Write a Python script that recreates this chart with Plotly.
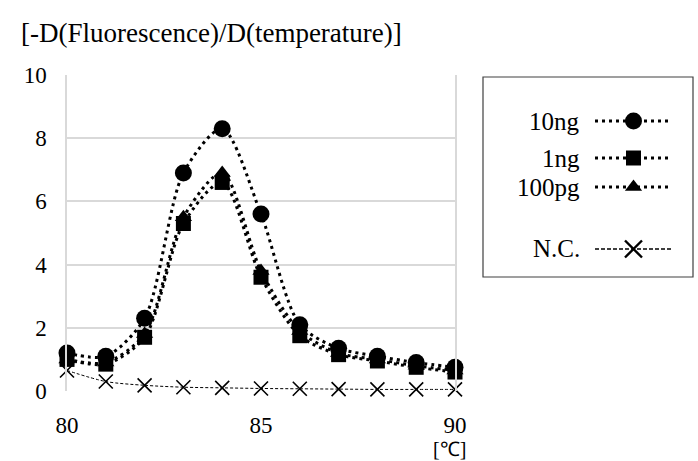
import plotly.graph_objects as go

temps = [80, 81, 82, 83, 84, 85, 86, 87, 88, 89, 90]
ng10 = [1.2, 1.1, 2.3, 6.9, 8.3, 5.6, 2.1, 1.35, 1.1, 0.9, 0.75]
ng1 = [1.0, 0.85, 1.7, 5.3, 6.6, 3.6, 1.75, 1.15, 0.95, 0.75, 0.6]
pg100 = [1.0, 0.9, 1.8, 5.5, 6.9, 3.8, 1.9, 1.2, 1.0, 0.8, 0.65]
nc = [0.65, 0.3, 0.18, 0.12, 0.1, 0.08, 0.07, 0.06, 0.05, 0.05, 0.05]

series_names = ["10ng", "1ng", "100pg", "N.C."]
xticks = [80, 85, 90]
yticks = [0, 2, 4, 6, 8, 10]

FONT = "Liberation Serif"
W, H = 698, 461


def px(x):
    return x / W


def py(y):
    return (H - y) / H


fig = go.Figure()


def add(y, sym, size, dash, width, name, lw=0):
    fig.add_trace(go.Scatter(
        x=temps, y=y, mode="lines+markers", name=name,
        line=dict(shape="spline", smoothing=0.8, dash=dash, width=width, color="black"),
        marker=dict(symbol=sym, size=size, color="black", line=dict(width=lw, color="black")),
        cliponaxis=False, showlegend=False))


DOT = "3px,4px"
NCDASH = "3px,2px"
add(ng10, "circle", 17, DOT, 3, "10ng")
add(pg100, "triangle-up", 15, DOT, 3, "100pg")
add(ng1, "square", 15, DOT, 3, "1ng")
add(nc, "x-thin", 14, NCDASH, 1, "N.C.", lw=1.6)

# custom legend (text left of symbol); legend axis y range is in pixel rows
leg_y = [121, 158, 187, 249]
styles = [("circle", 17, DOT, 3, 0), ("square", 15, DOT, 3, 0),
          ("triangle-up", 15, DOT, 3, 0), ("x-thin", 17, "4px,2px", 1.5, 2.4)]
annots = []
for name, ly, (sym, sz, dash, w, lw) in zip(series_names, leg_y, styles):
    fig.add_trace(go.Scatter(
        x=[0, 1, 2], y=[ly, ly, ly], mode="lines", xaxis="x2", yaxis="y2",
        line=dict(dash=dash, width=w, color="black"), showlegend=False, hoverinfo="skip"))
    fig.add_trace(go.Scatter(
        x=[1], y=[ly], mode="markers", xaxis="x2", yaxis="y2",
        marker=dict(symbol=sym, size=sz, color="black", line=dict(width=lw, color="black")),
        showlegend=False, cliponaxis=False, hoverinfo="skip"))
    annots.append(dict(x=px(582), y=py(ly), xref="paper", yref="paper", text=name,
                       showarrow=False, xanchor="right", yanchor="middle",
                       font=dict(family=FONT, size=25, color="black")))

annots.append(dict(text="[-D(Fluorescence)/D(temperature)]", xref="paper", yref="paper",
                   x=px(19), y=py(33), showarrow=False, xanchor="left", yanchor="middle",
                   font=dict(family=FONT, size=27, color="black")))
annots.append(dict(text="[℃]", xref="paper", yref="paper",
                   x=px(449), y=py(449), showarrow=False, xanchor="center", yanchor="middle",
                   font=dict(family=FONT, size=20, color="black")))

fig.update_layout(
    width=W, height=H,
    margin=dict(l=0, r=0, t=0, b=0, autoexpand=False),
    paper_bgcolor="white", plot_bgcolor="white",
    font=dict(family=FONT, size=23, color="black"),
    xaxis=dict(domain=[px(67), px(455)], range=[80, 90], tickvals=xticks, showgrid=False,
               zeroline=False, showline=False, ticks="", ticklabelstandoff=18, automargin=False),
    yaxis=dict(domain=[py(391), py(75)], range=[0, 10], tickvals=yticks, showgrid=True,
               gridcolor="#d9d9d9", gridwidth=1.5, zeroline=False, showline=True,
               linecolor="#d9d9d9", linewidth=1.5, mirror=True, ticks="",
               ticklabelstandoff=14, automargin=False),
    xaxis2=dict(domain=[px(595), px(672)], range=[0, 2], visible=False, anchor="y2"),
    yaxis2=dict(domain=[py(277), py(77)], range=[277, 77], visible=False, anchor="x2"),
    shapes=[dict(type="rect", xref="paper", yref="paper",
                 x0=px(483), x1=px(693), y0=py(277), y1=py(77),
                 line=dict(color="#404040", width=1.2), fillcolor="rgba(0,0,0,0)")],
    annotations=annots,
)

fig.write_html("out.html")
